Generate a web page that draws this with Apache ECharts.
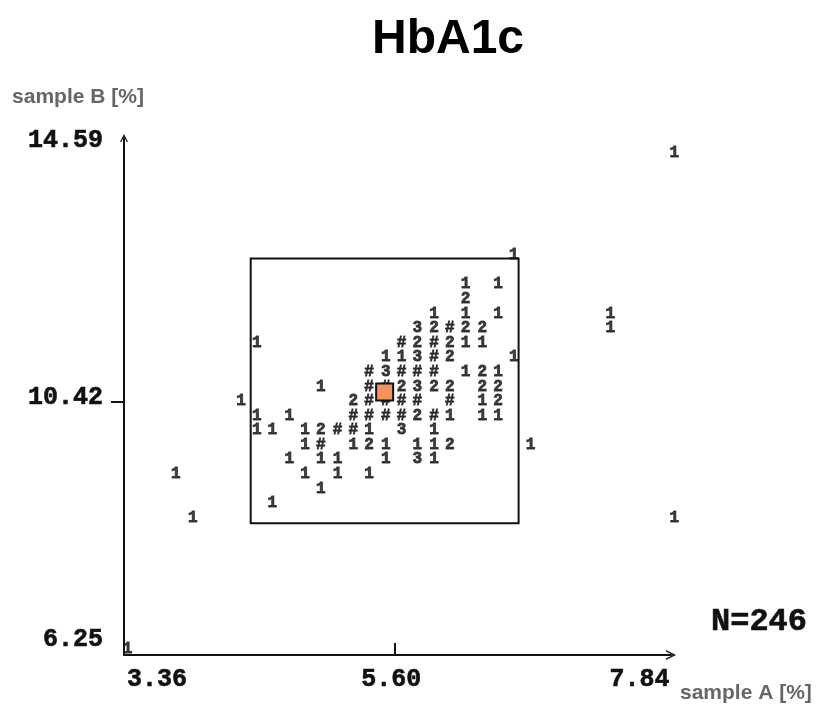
<!DOCTYPE html>
<html>
<head>
<meta charset="utf-8">
<script src="https://cdn.jsdelivr.net/npm/echarts@6/dist/echarts.min.js"></script>
<style>html,body{margin:0;padding:0;background:#fff}#c{width:819px;height:708px}</style>
</head>
<body>
<div id="c"></div>
<script>
// ---- data ----
const titleText = 'HbA1c';
const nameA = 'sample A [%]';
const nameB = 'sample B [%]';
const totalN = 246;
const xTicks = [3.36, 5.60, 7.84];
const yTicks = [6.25, 10.42, 14.59];
const xRange = [3.36, 7.893];
const yRange = [6.25, 14.762];
// levels of sample B (one per printed row)
const rowB = [14.52, 12.84, 12.36, 12.11, 11.87, 11.63, 11.39, 11.15, 10.91, 10.67,
              10.43, 10.19, 9.95, 9.71, 9.47, 9.23, 8.99, 8.75, 8.51, 6.35];
// sample A values on each row
const rowA = [
  [7.92],
  [6.59],
  [6.19, 6.46],
  [6.19],
  [5.93, 6.19, 6.46, 7.39],
  [5.79, 5.93, 6.06, 6.19, 6.33, 7.39],
  [4.46, 5.66, 5.79, 5.93, 6.06, 6.19, 6.33],
  [5.53, 5.66, 5.79, 5.93, 6.06, 6.59],
  [5.39, 5.53, 5.66, 5.79, 5.93, 6.19, 6.33, 6.46],
  [4.99, 5.39, 5.53, 5.66, 5.79, 5.93, 6.06, 6.33, 6.46],
  [4.33, 5.26, 5.39, 5.53, 5.66, 5.79, 6.06, 6.33, 6.46],
  [4.46, 4.73, 5.26, 5.39, 5.53, 5.66, 5.79, 5.93, 6.06, 6.33, 6.46],
  [4.46, 4.59, 4.86, 4.99, 5.13, 5.26, 5.39, 5.66, 5.93],
  [4.86, 4.99, 5.26, 5.39, 5.53, 5.79, 5.93, 6.06, 6.73],
  [4.73, 4.99, 5.13, 5.53, 5.79, 5.93],
  [3.79, 4.86, 5.13, 5.39],
  [4.99],
  [4.59],
  [3.93, 7.92],
  [3.39]
];
// printed count symbol for each value ('#' = many)
const rowCount = [
  ['1'],
  ['1'],
  ['1','1'],
  ['2'],
  ['1','1','1','1'],
  ['3','2','#','2','2','1'],
  ['1','#','2','#','2','1','1'],
  ['1','1','3','#','2','1'],
  ['#','3','#','#','#','1','2','1'],
  ['1','#','#','2','3','2','2','2','2'],
  ['1','2','#','#','#','#','#','1','2'],
  ['1','1','#','#','#','#','2','#','1','1','1'],
  ['1','1','1','2','#','#','1','3','1'],
  ['1','#','1','2','1','1','1','2','1'],
  ['1','1','1','1','3','1'],
  ['1','1','1','1'],
  ['1'],
  ['1'],
  ['1','1'],
  ['1']
];
// highlighted sample and reference box
const highlightA = [5.52];
const highlightB = [10.58];
const boxA = [4.41, 6.63];
const boxB = [8.42, 12.78];

// ---- build ----
const cells = [];
rowB.forEach((b, i) => rowA[i].forEach((a, j) => cells.push([a, b, rowCount[i][j]])));
const hl = highlightA.map((a, i) => [a, highlightB[i]]);

const mono = "'Liberation Mono', 'DejaVu Sans Mono', monospace";
const sans = "'Liberation Sans', Arial, sans-serif";
const ink = '#111';
const chevron = 'path://M0,10 L5,0 L10,10 L8.4,10 L5,3.2 L1.6,10 Z';
const tickFont = {fontFamily: mono, fontWeight: 'bold', fontSize: 25, color: ink,
                  textBorderColor: ink, textBorderWidth: 0.6};
const nameFont = {fontFamily: sans, fontWeight: 'bold', fontSize: 21, color: '#666'};

const chart = echarts.init(document.getElementById('c'), null, {renderer: 'canvas'});
chart.setOption({
  animation: false,
  backgroundColor: '#fff',
  title: [
    {text: titleText, left: 372, top: 16, padding: 0,
     textStyle: {fontFamily: sans, fontWeight: 'bold', fontSize: 48, color: '#000'}},
    {text: 'N=' + totalN, left: 711, top: 606, padding: 0,
     textStyle: {fontFamily: mono, fontWeight: 'bold', fontSize: 32, color: ink,
                 textBorderColor: ink, textBorderWidth: 0.6}}
  ],
  grid: {left: 124, top: 138, width: 547, height: 517},
  xAxis: {
    type: 'value', min: xRange[0], max: xRange[1],
    splitLine: {show: false},
    axisLine: {show: true, onZero: false, lineStyle: {color: ink, width: 2},
               symbol: ['none', chevron], symbolSize: [11, 10]},
    axisTick: {show: true, inside: true, length: 12, customValues: [xTicks[1]],
               lineStyle: {color: ink, width: 2}},
    axisLabel: {
      show: true, customValues: xTicks, margin: 12,
      formatter: v => {
        const k = xTicks.findIndex(t => Math.abs(t - v) < 1e-6);
        const key = k === 0 ? 'f' : (k === xTicks.length - 1 ? 'l' : 'm');
        return '{' + key + '|' + v.toFixed(2) + '}';
      },
      rich: {
        f: Object.assign({padding: [0, 0, 0, 66]}, tickFont),
        m: Object.assign({padding: [0, 6, 0, 0]}, tickFont),
        l: Object.assign({padding: [0, 50, 0, 0]}, tickFont)
      }
    },
    name: '{n|' + nameA + '}', nameLocation: 'end', nameGap: 9,
    nameTextStyle: Object.assign({align: 'left', verticalAlign: 'middle',
      rich: {n: Object.assign({padding: [76, 0, 0, 0]}, nameFont)}}, nameFont)
  },
  yAxis: {
    type: 'value', min: yRange[0], max: yRange[1],
    splitLine: {show: false},
    axisLine: {show: true, onZero: false, lineStyle: {color: ink, width: 2},
               symbol: ['none', chevron], symbolSize: [9, 8]},
    axisTick: {show: true, inside: false, length: 13, customValues: [yTicks[1]],
               lineStyle: {color: ink, width: 2}},
    axisLabel: {
      show: true, customValues: yTicks, margin: 21,
      formatter: v => {
        const k = yTicks.findIndex(t => Math.abs(t - v) < 1e-6);
        const key = k === 0 ? 'b' : (k === yTicks.length - 1 ? 't' : 'm');
        return '{' + key + '|' + v.toFixed(2) + '}';
      },
      rich: {
        b: Object.assign({padding: [0, 0, 30, 0]}, tickFont),
        m: Object.assign({padding: [0, 0, 8, 0]}, tickFont),
        t: Object.assign({padding: [0, 0, 16, 0]}, tickFont)
      }
    },
    name: nameB, nameLocation: 'end', nameGap: 41,
    nameTextStyle: Object.assign({align: 'center', verticalAlign: 'middle',
      padding: [0, 92, 0, 0]}, nameFont)
  },
  series: [
    {
      type: 'scatter', name: 'counts', data: cells, clip: false, z: 2,
      symbol: 'circle', symbolSize: 1, itemStyle: {color: 'rgba(0,0,0,0)'},
      label: {show: true, position: 'inside', formatter: p => p.data[2],
              fontFamily: mono, fontWeight: 'bold', fontSize: 16, color: ink,
              textBorderColor: ink, textBorderWidth: 0.8},
      emphasis: {disabled: true},
      markArea: {
        silent: true,
        itemStyle: {color: 'rgba(0,0,0,0)', borderColor: ink, borderWidth: 2},
        label: {show: false},
        data: [[{coord: [boxA[0], boxB[1]]}, {coord: [boxA[1], boxB[0]]}]]
      }
    },
    {
      type: 'scatter', name: 'sample', data: hl, clip: false, z: 10,
      symbol: 'rect', symbolSize: 17,
      itemStyle: {color: '#F5925E', opacity: 1, borderColor: ink, borderWidth: 2},
      emphasis: {disabled: true}
    }
  ]
});
</script>
</body>
</html>
